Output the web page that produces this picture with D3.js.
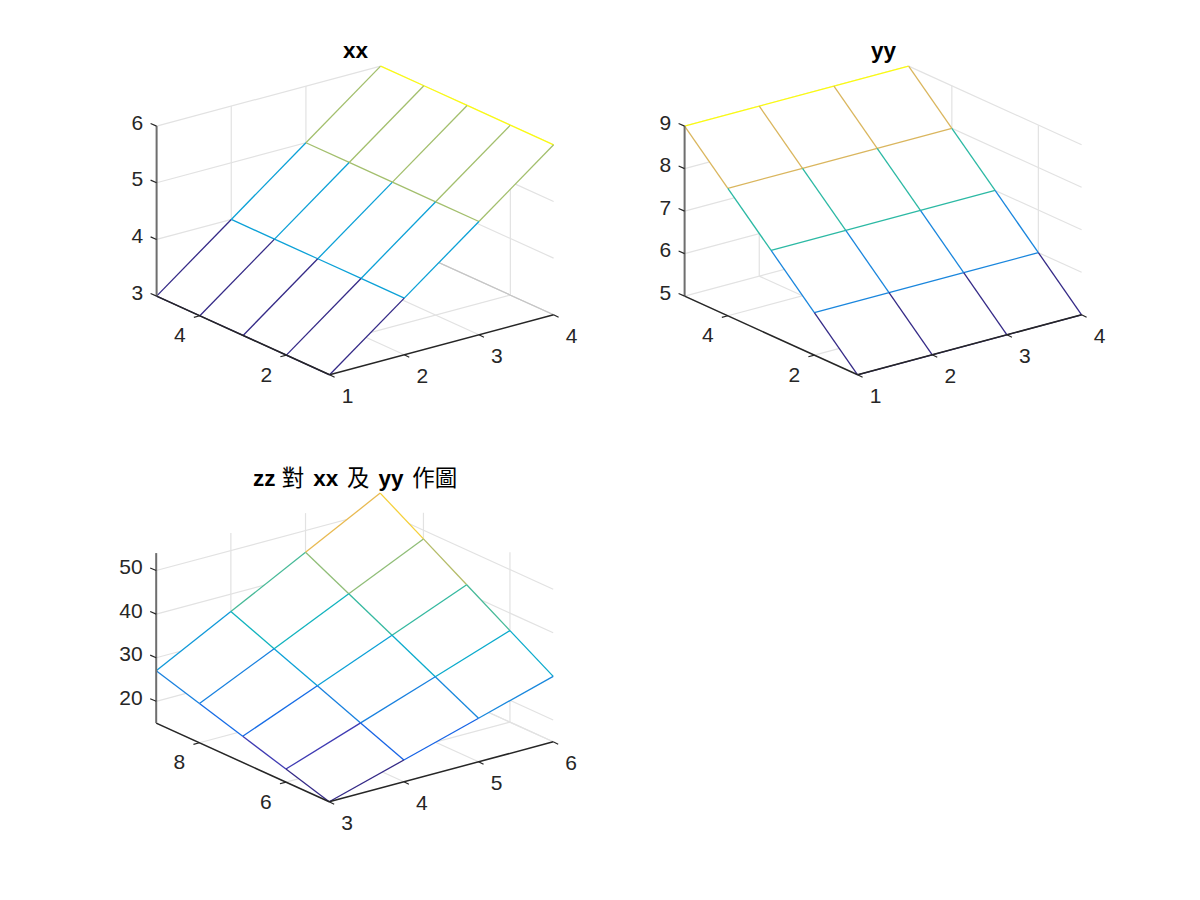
<!DOCTYPE html>
<html><head><meta charset="utf-8">
<script src="https://d3js.org/d3.v7.min.js"></script>
<style>html,body{margin:0;padding:0;background:#fff}svg{display:block}</style>
</head><body><svg id="c" width="1200" height="900"></svg>
<script>
// ---- data ----
const xIndex = [1, 2, 3, 4];
const yIndex = [1, 2, 3, 4, 5];
const xVals = [3, 4, 5, 6];
const yVals = [5, 6, 7, 8, 9];
const xxGrid = [[3,4,5,6],[3,4,5,6],[3,4,5,6],[3,4,5,6],[3,4,5,6]];
const yyGrid = [[5,5,5,5],[6,6,6,6],[7,7,7,7],[8,8,8,8],[9,9,9,9]];
const zzGrid = [[15,20,25,30],[18,24,30,36],[21,28,35,42],[24,32,40,48],[27,36,45,54]];
const xTicks1 = [1, 2, 3, 4];
const yTicks1 = [2, 4];
const zTicksA = [3, 4, 5, 6];
const zTicksB = [5, 6, 7, 8, 9];
const xTicks3 = [3, 4, 5, 6];
const yTicks3 = [6, 8];
const zTicks3 = [20, 30, 40, 50];
const titleA = "xx";
const titleB = "yy";
const titleC = [["zz ",1],["對",0],[" ",1],["xx",1],[" ",1],["及",0],[" ",1],["yy",1],[" ",1],["作圖",0]];

// ---- colour ----
const colorStops = [0,.08,.13,.25,.33,.42,.5,.64,.67,.75,.78,1];
const colorVals = ["#352a87","#3f3cb5","#1565e8","#1a86dd","#0ca0d8","#0ab2c4","#2cb9a4","#8fbe78","#a5bf6c","#dab65e","#f2bd4a","#fbfb10"];
const cmap = d3.scaleLinear().domain(colorStops).range(colorVals).interpolate(d3.interpolateRgb);

const svg = d3.select("#c");
const FONT = "'Liberation Sans', Arial, sans-serif";

function plot(o){
  const g = svg.append("g");
  const [xa,xb] = d3.extent(o.xs), [ya,yb] = d3.extent(o.ys);
  const xH = d3.scaleLinear().domain([xa,xb]).range([0, 224]);
  const xV = d3.scaleLinear().domain([xa,xb]).range([0, -60]);
  const yH = d3.scaleLinear().domain([ya,yb]).range([0, -173]);
  const yV = d3.scaleLinear().domain([ya,yb]).range([0, -78.7]);
  const zV = d3.scaleLinear().domain(o.zlim).range([0, -170]);
  const P = (x,y,z)=>[o.ox + xH(x) + yH(y), o.oy + xV(x) + yV(y) + zV(z)];
  const line = (a,b,s,w)=>g.append("line").attr("x1",a[0]).attr("y1",a[1]).attr("x2",b[0]).attr("y2",b[1])
     .attr("stroke",s).attr("stroke-width",w||1);
  const [za,zb] = o.zlim;
  const GRID = "#e2e2e2";

  // walls and floor
  o.xt.forEach(x=>{ line(P(x,ya,za),P(x,yb,za),GRID,1.2); line(P(x,yb,za),P(x,yb,zb),GRID,1.2); });
  o.yt.forEach(y=>{ line(P(xa,y,za),P(xb,y,za),GRID,1.2); line(P(xb,y,za),P(xb,y,zb),GRID,1.2); });
  o.zt.forEach(z=>{ line(P(xa,yb,z),P(xb,yb,z),GRID,1.2); line(P(xb,yb,z),P(xb,ya,z),GRID,1.2); });
  line(P(xb,ya,za),P(xb,yb,za),o.edge||GRID,1.2);

  // mesh: white faces first, then the coloured edges
  const zc = d3.scaleLinear().domain(d3.extent(o.Z.flat())).range([0,1]);
  const p = (a,b)=>P(o.xs[a],o.ys[b],o.Z[b][a]);
  for(let j=o.ys.length-2;j>=0;j--) for(let i=o.xs.length-2;i>=0;i--){
    g.append("polygon").attr("points",[p(i,j),p(i+1,j),p(i+1,j+1),p(i,j+1)].map(q=>q.join(",")).join(" ")).attr("fill","#fff");
  }
  for(let j=o.ys.length-1;j>=0;j--) for(let i=o.xs.length-1;i>=0;i--){
    const c = cmap(zc(o.Z[j][i]));
    if(i<o.xs.length-1) line(p(i,j),p(i+1,j),c,1.3);
    if(j<o.ys.length-1) line(p(i,j),p(i,j+1),c,1.3);
  }

  // axes
  const AX = "#262626";
  line(P(xa,ya,za),P(xb,ya,za),AX,1.5);
  line(P(xa,ya,za),P(xa,yb,za),AX,1.5);
  line(P(xa,yb,za),P(xa,yb,zb),"#6e6e6e",2);
  const text=(q,t,anchor)=>g.append("text").attr("x",q[0]).attr("y",q[1]).attr("text-anchor",anchor)
     .attr("font-family",FONT).attr("font-size",21).attr("fill","#262626").text(t);
  o.xt.forEach(x=>{ const q=P(x,ya,za); line(q,[q[0]+5,q[1]+2.4],AX,1.2); text([q[0]+18,q[1]+28.5],x,"middle"); });
  o.yt.forEach(y=>{ const q=P(xa,y,za); line(q,[q[0]-6,q[1]+1.6],AX,1.2); text([q[0]-20,q[1]+26.5],y,"middle"); });
  o.zt.forEach(z=>{ const q=P(xa,yb,z); line(q,[q[0]-6,q[1]-2.6],AX,1.2); text([q[0]-13.5,q[1]+3.5],z,"end"); });

  // title
  const t = g.append("text").attr("x",o.ox+26).attr("y",o.oy+o.ty).attr("text-anchor","middle")
     .style("white-space","pre").attr("fill","#000").attr("font-size",22.5);
  o.title.forEach(([s,b])=>{
    const ts = t.append("tspan").text(s)
      .attr("font-family", b? FONT : "'Noto Sans CJK TC', sans-serif")
      .attr("font-weight", b? "bold":"normal");
    if(s===" ") ts.attr("dx",2.6);
  });
}

plot({ox:329.6,oy:374.8,xs:xIndex,ys:yIndex,Z:xxGrid,zlim:[3,6],xt:xTicks1,yt:yTicks1,zt:zTicksA,title:[[titleA,1]],ty:-316.8,edge:"#c4c4c4"});
plot({ox:857.6,oy:374.8,xs:xIndex,ys:yIndex,Z:yyGrid,zlim:[5,9],xt:xTicks1,yt:yTicks1,zt:zTicksB,title:[[titleB,1]],ty:-316.8});
plot({ox:329.2,oy:801.8,xs:xVals,ys:yVals,Z:zzGrid,zlim:[15,54],xt:xTicks3,yt:yTicks3,zt:zTicks3,title:titleC,ty:-315.8});
</script></body></html>
